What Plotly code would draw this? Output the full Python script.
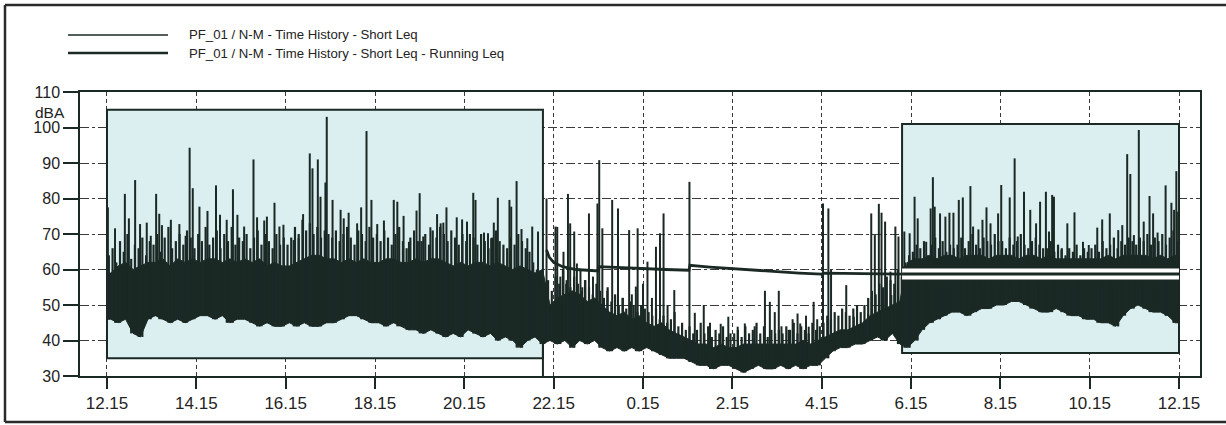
import plotly.graph_objects as go

# ---------------------------------------------------------------------------
# Noise survey PF_01 / N-M : 24 h time history, hours counted from 12.15
# ---------------------------------------------------------------------------
tick_hours = list(range(0, 25, 2))
tick_labels = ["12.15", "14.15", "16.15", "18.15", "20.15", "22.15", "0.15",
               "2.15", "4.15", "6.15", "8.15", "10.15", "12.15"]
level_ticks = [30, 40, 50, 60, 70, 80, 90, 100, 110]

# Short Leq, 10-minute bins: lowest level reached in each bin
floor_db = [
    46, 45, 46, 42, 41, 46,   47, 46, 45, 46, 45, 46,
    47, 47, 46, 47, 45, 46,   46, 45, 44, 45, 44, 44,
    45, 44, 45, 44, 44, 45,   45, 46, 47, 47, 46, 45,
    45, 44, 45, 44, 43, 43,   42, 43, 42, 41, 42, 41,
    43, 42, 41, 42, 40, 41,   40, 38, 40, 41, 39, 40,
    39, 40, 38, 40, 39, 40,   38, 37, 38, 37, 38, 37,
    38, 37, 36, 35, 35, 35,   34, 33, 33, 32, 33, 33,
    32, 31, 32, 33, 32, 32,   33, 32, 33, 32, 33, 33,
    35, 37, 38, 38, 39, 39,   40, 41, 40, 42, 39, 38,
    40, 43, 45, 46, 47, 48,   48, 47, 48, 49, 49, 50,
    50, 51, 51, 50, 49, 48,   48, 49, 48, 47, 47, 46,
    46, 45, 45, 44, 47, 49,   50, 49, 48, 48, 47, 45,
]

# Short Leq, 10-minute bins: upper edge of the continuous band of levels
body_db = [
    59, 61, 62, 60, 61, 62,   62, 63, 61, 63, 62, 63,
    62, 63, 63, 62, 63, 62,   63, 62, 63, 61, 62, 61,
    61, 62, 63, 64, 64, 63,   63, 62, 63, 62, 63, 62,
    62, 63, 63, 62, 62, 63,   62, 63, 63, 62, 61, 62,
    61, 62, 62, 61, 62, 61,   60, 61, 60, 59, 60, 50,
    52, 53, 54, 53, 51, 52,   50, 48, 47, 48, 46, 47,
    45, 44, 45, 43, 42, 41,   40, 39, 39, 38, 39, 38,
    38, 39, 39, 39, 39, 39,   39, 39, 39, 40, 39, 40,
    41, 42, 43, 43, 44, 45,   47, 48, 49, 50, 51, 62,
    63, 63, 64, 63, 64, 64,   63, 64, 64, 64, 63, 64,
    64, 64, 63, 64, 64, 63,   64, 63, 63, 63, 63, 63,
    63, 63, 64, 63, 64, 64,   64, 64, 63, 64, 63, 64,
]

# Short Leq, 5-minute bins: typical top of the short bursts in each bin
burst_db = [
    64, 66, 62, 68, 65, 70, 63, 67, 66, 69, 64, 68,
    67, 70, 65, 69, 72, 66, 68, 70, 67, 71, 69, 66,
    70, 68, 72, 67, 69, 71, 66, 70, 68, 72, 67, 69,
    68, 70, 66, 69, 71, 67, 70, 68, 66, 70, 67, 69,
    67, 69, 72, 70, 74, 71, 73, 70, 72, 69, 71, 70,
    69, 71, 68, 70, 72, 69, 67, 71, 70, 68, 72, 69,
    70, 68, 71, 69, 67, 70, 72, 68, 66, 69, 71, 68,
    68, 70, 67, 71, 69, 72, 70, 68, 71, 69, 67, 70,
    68, 70, 69, 67, 70, 68, 66, 69, 71, 68, 67, 66,
    69, 67, 70, 68, 66, 65, 62, 60, 58, 55, 57, 54,
    58, 56, 60, 57, 55, 58, 56, 54, 57, 55, 53, 56,
    54, 52, 55, 51, 53, 50, 52, 49, 51, 50, 48, 50,
    49, 48, 47, 49, 46, 47, 45, 46, 48, 44, 45, 43,
    44, 42, 43, 45, 42, 44, 41, 43, 42, 44, 41, 42,
    42, 43, 41, 44, 42, 43, 45, 42, 44, 41, 43, 42,
    43, 42, 44, 43, 45, 42, 44, 43, 42, 45, 43, 44,
    45, 47, 46, 48, 47, 49, 48, 47, 49, 50, 48, 50,
    52, 54, 53, 56, 55, 58, 57, 56, 60, 58, 62, 64,
    65, 67, 66, 68, 64, 67, 69, 66, 68, 65, 67, 66,
    67, 69, 66, 68, 70, 67, 66, 69, 68, 67, 70, 68,
    68, 66, 69, 67, 68, 70, 67, 66, 68, 69, 67, 66,
    66, 68, 65, 67, 66, 64, 66, 65, 67, 64, 66, 65,
    66, 67, 65, 68, 66, 67, 69, 66, 68, 67, 69, 68,
    67, 69, 68, 70, 67, 69, 68, 70, 67, 69, 71, 68,
]

# Short Leq single events (hour, level)
peak_hours = [
    0.02, 0.18, 0.40, 0.49, 0.63, 0.74, 0.89, 0.98, 1.10, 1.17, 1.23, 1.43,
    1.62, 1.76, 1.85, 1.92, 2.07, 2.25, 2.44, 2.53, 2.68, 2.82, 2.92, 3.07,
    3.28, 3.36, 3.52, 3.58, 3.75, 3.86, 3.95, 4.18, 4.29, 4.39, 4.54, 4.60,
    4.72, 4.78, 4.89, 4.92, 5.05, 5.23, 5.30, 5.41, 5.60, 5.69, 5.81, 5.92,
    6.05, 6.20, 6.42, 6.50, 6.64, 6.76, 6.93, 7.00, 7.08, 7.24, 7.39, 7.47,
    7.53, 7.60, 7.83, 7.95, 8.06, 8.20, 8.25, 8.44, 8.53, 8.60, 8.66, 8.75,
    9.01, 9.05, 9.17, 9.28, 9.41, 9.52, 9.65, 9.76,
    9.84, 10.04, 10.08, 10.15, 10.22, 10.28, 10.32, 10.37, 10.46, 10.52,
    10.60, 10.64, 10.70, 10.79, 10.88, 10.98, 11.02, 11.09, 11.20, 11.31,
    11.44, 11.55, 11.69, 11.75, 11.84, 11.88, 12.00, 12.10, 12.20, 12.29,
    12.38, 12.46, 12.55, 12.70, 13.04, 13.16, 13.36, 13.50, 13.74, 13.91,
    14.12, 14.28, 14.50, 14.73, 14.84, 14.95, 15.04, 15.10, 15.26, 15.35,
    15.46, 15.52, 15.65, 15.71, 15.82, 15.90, 16.03, 16.15, 16.21, 16.55,
    16.72, 17.04, 17.11, 17.19, 17.28, 17.34, 17.42, 17.54, 17.56, 17.65,
    17.72,
    17.85, 17.97, 18.08, 18.15, 18.34, 18.44, 18.49, 18.53, 18.65, 18.77,
    18.86, 18.95, 19.07, 19.16, 19.33, 19.39, 19.51, 19.60, 19.69, 19.78,
    19.95, 20.02, 20.21, 20.32, 20.39, 20.53, 20.67, 20.80, 20.89, 21.02,
    21.09, 21.16, 21.20, 21.37, 21.50, 21.66, 21.85, 21.98, 22.17, 22.28,
    22.45, 22.64, 22.73, 22.84, 22.91, 22.99, 23.10, 23.21, 23.34, 23.42,
    23.52, 23.70, 23.83, 23.89, 23.94, 23.98,
]
peak_db = [
    77.5, 71.6, 81.3, 74.4, 85.2, 72.8, 73.2, 69.5, 81.3, 75.7, 72.5, 74.0,
    72.8, 69.5, 94.3, 82.9, 77.7, 76.5, 83.7, 75.4, 74.0, 82.6, 75.4, 72.1,
    91.0, 74.7, 73.8, 74.9, 78.8, 72.1, 72.6, 68.3, 68.8, 75.6, 92.7, 88.5,
    91.0, 80.5, 84.5, 103.0, 79.6, 76.8, 74.4, 76.0, 73.0, 77.5, 99.0, 79.6,
    72.8, 73.8, 79.6, 79.1, 75.1, 67.8, 76.6, 81.5, 69.3, 71.9, 75.6, 73.0,
    73.2, 77.5, 74.7, 74.1, 73.5, 81.6, 79.6, 70.4, 70.2, 68.8, 73.2, 80.2,
    79.6, 77.7, 84.9, 71.4, 68.8, 72.1, 70.7, 30.0,
    80.0, 72.1, 72.0, 58.0, 65.0, 56.0, 81.3, 73.0, 70.7, 61.7,
    60.0, 55.0, 57.0, 75.8, 58.0, 78.6, 90.8, 71.6, 54.0, 79.6,
    77.2, 52.0, 71.1, 53.0, 55.2, 71.6, 56.0, 62.2, 52.0, 66.4,
    70.2, 75.8, 50.0, 54.2, 84.7, 47.8, 50.0, 45.0, 44.7, 46.7,
    43.9, 44.8, 44.0, 54.0, 50.9, 48.0, 54.0, 44.0, 43.0, 46.0,
    47.6, 44.8, 47.0, 43.9, 50.9, 46.0, 78.6, 77.2, 59.9, 55.6,
    46.7, 47.6, 75.8, 69.7, 78.5, 76.0, 73.5, 59.4, 52.8, 72.1,
    69.3,
    70.7, 70.2, 80.5, 74.4, 67.8, 77.2, 86.0, 77.7, 75.8, 74.9,
    76.0, 76.0, 79.6, 80.3, 83.5, 72.1, 71.3, 74.0, 77.5, 73.0,
    75.8, 83.8, 80.3, 91.3, 69.3, 81.9, 76.8, 73.0, 79.1, 81.9,
    70.7, 81.0, 80.5, 65.5, 73.0, 76.1, 67.8, 66.9, 71.8, 74.1,
    75.8, 71.1, 72.5, 92.5, 86.9, 69.7, 99.3, 73.5, 80.7, 75.8,
    70.4, 83.7, 78.8, 76.8, 87.7, 76.3,
]

# Running Leq, night period from 22.00
night_hours = [9.84, 9.90, 10.0, 10.2, 10.5, 11.0, 11.02, 11.5, 12.0, 12.5,
               13.03, 13.05, 13.5, 14.0, 14.5, 15.0, 15.5, 16.0, 16.05, 16.5,
               17.0, 17.8]
night_db = [65.5, 63.5, 62.0, 60.8, 60.0, 59.6, 60.8, 60.5, 60.3, 60.0,
            59.8, 61.2, 60.7, 60.2, 59.8, 59.4, 59.0, 58.7, 59.0, 58.9,
            58.8, 58.7]

# Running Leq, morning period from 6.00
morning_hours = [17.8, 19.5, 21.5, 24.0]
morning_db = [58.7, 58.7, 58.7, 58.7]

# Highlighted assessment periods: (start h, end h, low dB, high dB)
day_period = (0.0, 9.76, 35.0, 105.0)
morning_period = (17.8, 24.0, 36.5, 101.0)

# ---------------------------------------------------------------------------
INK = "#1b2925"
TEXT = "#232323"
GRID = "#3a3a3a"
PANEL = "#dbeef0"
FONT = "Liberation Sans, Arial, sans-serif"

W, H = 1226, 425
L, R, T, B = 80, 26, 92, 49
PW, PH = W - L - R, H - T - B


def px(x):
    return (x - L) / PW


def py(y):
    return (H - B - y) / PH


bin_w = 24 / len(floor_db)
centres = [(i + 0.5) * bin_w for i in range(len(floor_db))]
band_x = [0.0] + centres + [24.0]

fig = go.Figure()

# continuous band of Short Leq levels
fig.add_trace(go.Scatter(
    x=band_x, y=floor_db[:1] + floor_db + floor_db[-1:], mode="lines",
    line=dict(color=INK, width=1), hoverinfo="skip"))
fig.add_trace(go.Scatter(
    x=band_x, y=body_db[:1] + body_db + body_db[-1:], mode="lines",
    line=dict(color=INK, width=1), fill="tonexty",
    fillcolor=INK, hoverinfo="skip"))


def floor_at(h):
    return floor_db[min(int(h / bin_w), len(floor_db) - 1)]


# short bursts as vertical strokes from the band floor
burst_w = 24 / len(burst_db)
bx, by = [], []
for j, v in enumerate(burst_db):
    h = (j + 0.5) * burst_w
    bx += [h, h, None]
    by += [floor_at(h), v, None]
fig.add_trace(go.Scatter(x=bx, y=by, mode="lines",
                         line=dict(color=INK, width=2.2), hoverinfo="skip"))

# single events as vertical strokes
sx, sy = [], []
for h, v in zip(peak_hours, peak_db):
    sx += [h, h, None]
    sy += [floor_at(h), v, None]
fig.add_trace(go.Scatter(x=sx, y=sy, mode="lines",
                         line=dict(color=INK, width=2), hoverinfo="skip"))

# running Leq (night)
fig.add_trace(go.Scatter(x=night_hours, y=night_db, mode="lines",
                         line=dict(color=INK, width=2.8), hoverinfo="skip"))

# running Leq (morning) drawn as an outlined band
for col, w in ((INK, 15), ("white", 11), (INK, 3)):
    fig.add_trace(go.Scatter(x=morning_hours, y=morning_db, mode="lines",
                             line=dict(color=col, width=w), hoverinfo="skip"))

shapes = []
for x0, x1, y0, y1 in (day_period, morning_period):
    shapes.append(dict(type="rect", xref="x", yref="y", x0=x0, x1=x1,
                       y0=y0, y1=y1, fillcolor=PANEL,
                       line=dict(color=INK, width=2), layer="between"))

# outer frame
fx0, fy0, fy1 = px(5), py(5), py(422)
shapes += [
    dict(type="line", xref="paper", yref="paper", x0=fx0, x1=px(1226),
         y0=fy0, y1=fy0, line=dict(color="#2a2a2a", width=2.5)),
    dict(type="line", xref="paper", yref="paper", x0=fx0, x1=px(1226),
         y0=fy1, y1=fy1, line=dict(color="#2a2a2a", width=2.5)),
    dict(type="line", xref="paper", yref="paper", x0=fx0, x1=fx0,
         y0=fy0, y1=fy1, line=dict(color="#2a2a2a", width=2.5)),
]

# legend
legend_rows = [("PF_01 / N-M - Time History - Short Leq", 35, 1.3),
               ("PF_01 / N-M - Time History - Short Leq - Running Leq", 53, 2.6)]
annotations = []
for label, yy, lw in legend_rows:
    shapes.append(dict(type="line", xref="paper", yref="paper",
                       x0=px(68), x1=px(168), y0=py(yy), y1=py(yy),
                       line=dict(color=INK, width=lw)))
    annotations.append(dict(text=label, xref="paper", yref="paper",
                            x=px(187), y=py(yy), xanchor="left",
                            yanchor="middle", showarrow=False,
                            font=dict(size=13.2, color=TEXT, family=FONT)))

# unit label sitting just below the top tick label
annotations.append(dict(text="dBA", xref="paper", yref="paper", x=px(50),
                        y=py(102), xanchor="center", yanchor="top",
                        showarrow=False,
                        font=dict(size=15.5, color=TEXT, family=FONT)))

axis_common = dict(showline=True, mirror=True, linecolor=INK, linewidth=1.5,
                   ticks="outside", tickcolor=INK, tickwidth=1.5,
                   showgrid=True, gridcolor=GRID, gridwidth=1,
                   zeroline=False)

fig.update_layout(
    width=W, height=H,
    margin=dict(l=L, r=R, t=T, b=B),
    paper_bgcolor="white", plot_bgcolor="white",
    showlegend=False,
    shapes=shapes, annotations=annotations,
    xaxis=dict(range=[-27 / 44.68, 24 + 21 / 44.68], tickmode="array",
               tickvals=tick_hours, ticktext=tick_labels, ticklen=11,
               griddash="4px,3px",
               tickfont=dict(size=17, color=TEXT, family=FONT),
               **axis_common),
    yaxis=dict(range=[30, 110], tickmode="array", tickvals=level_ticks,
               ticklen=15, griddash="9px,3px,3px,3px",
               tickfont=dict(size=16, color=TEXT, family=FONT),
               **axis_common),
)

fig.write_html("out.html")
